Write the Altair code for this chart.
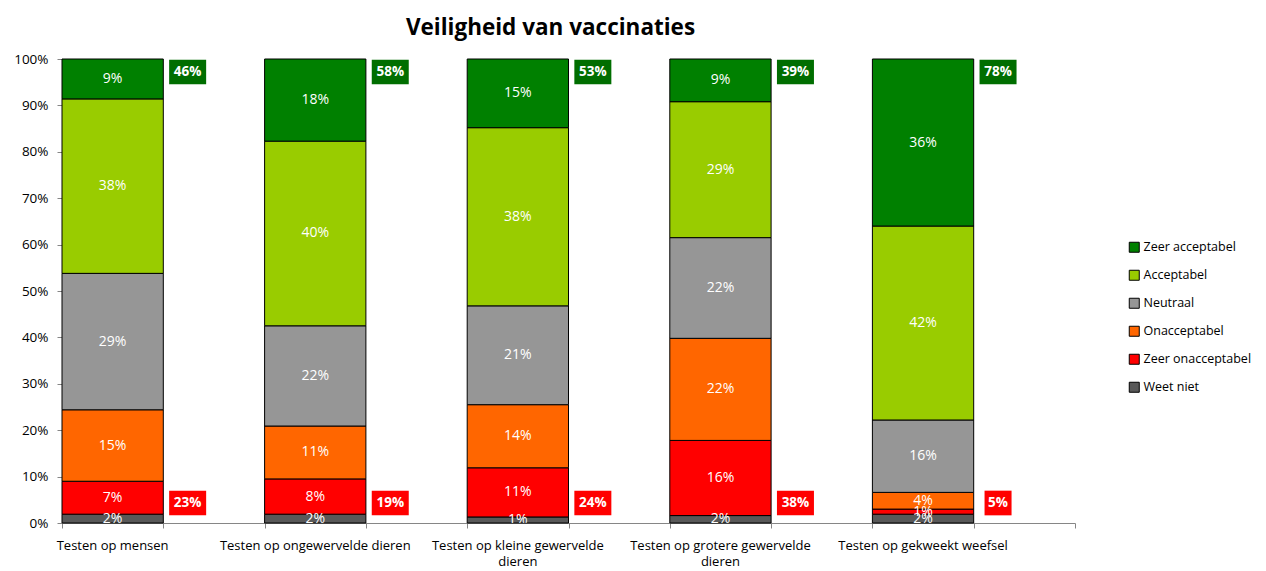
import altair as alt
import pandas as pd

categories = [
    "Testen op mensen",
    "Testen op ongewervelde dieren",
    "Testen op kleine gewervelde|dieren",
    "Testen op grotere gewervelde|dieren",
    "Testen op gekweekt weefsel",
]
responses = ["Zeer acceptabel", "Acceptabel", "Neutraal", "Onacceptabel",
             "Zeer onacceptabel", "Weet niet"]
colors = ["#008000", "#99CC00", "#969696", "#FF6600", "#FF0000", "#595959"]

# values per category (percent), one list per response
weet_niet = [1.9, 1.9, 1.3, 1.6, 1.9]
zeer_onacceptabel = [7.1, 7.6, 10.6, 16.2, 1.1]
onacceptabel = [15.4, 11.4, 13.6, 22.0, 3.6]
neutraal = [29.4, 21.6, 21.3, 21.7, 15.6]
acceptabel = [37.6, 39.8, 38.4, 29.3, 41.8]
zeer_acceptabel = [8.6, 17.7, 14.8, 9.2, 36.0]

totaal_acceptabel = [46, 58, 53, 39, 78]
totaal_onacceptabel = [23, 19, 24, 38, 5]

series = {
    "Weet niet": weet_niet,
    "Zeer onacceptabel": zeer_onacceptabel,
    "Onacceptabel": onacceptabel,
    "Neutraal": neutraal,
    "Acceptabel": acceptabel,
    "Zeer acceptabel": zeer_acceptabel,
}
stack_order = ["Weet niet", "Zeer onacceptabel", "Onacceptabel", "Neutraal",
               "Acceptabel", "Zeer acceptabel"]

rows = []
for r in stack_order:
    for c, v in zip(categories, series[r]):
        rows.append({"cat": c, "resp": r, "value": v, "ord": stack_order.index(r)})
df = pd.DataFrame(rows)

top_df = pd.DataFrame({"cat": categories,
                       "lab": [f"{v}%" for v in totaal_acceptabel],
                       "nd": [len(str(v)) for v in totaal_acceptabel],
                       "ypos": [100] * 5})
bot_df = pd.DataFrame({"cat": categories,
                       "lab": [f"{v}%" for v in totaal_onacceptabel],
                       "nd": [len(str(v)) for v in totaal_onacceptabel],
                       "ypos": [0] * 5})

domain = []
for i, c in enumerate(categories):
    domain += [c, "_" * (i + 1)]

W, H = 1013, 464
FONT = "Open Sans"
xscale = alt.Scale(domain=domain, paddingInner=0, paddingOuter=0)
yscale = alt.Scale(domain=[0, 100], nice=False)

xenc = alt.X("cat:N", scale=xscale,
             axis=alt.Axis(title=None, labels=False, tickBand="extent", tickSize=5,
                           domainColor="#868686", tickColor="#868686"))

bars = alt.Chart(df).mark_bar(stroke="#000000", strokeWidth=1).encode(
    x=xenc,
    y=alt.Y("value:Q", stack="zero", scale=yscale,
            axis=alt.Axis(title=None, values=list(range(0, 101, 10)), grid=False,
                          labelExpr="datum.value + '%'", labelFont=FONT,
                          labelFontSize=13.5, labelColor="#000000", labelPadding=9,
                          tickSize=5, domainColor="#868686", tickColor="#868686")),
    color=alt.Color("resp:N", scale=alt.Scale(domain=responses, range=colors),
                    legend=alt.Legend(title=None, orient="none", legendX=1066, legendY=182,
                                      symbolType="square", symbolSize=100,
                                      symbolStrokeColor="#000000", symbolStrokeWidth=1,
                                      labelFont=FONT, labelFontSize=12.5, labelOffset=3,
                                      labelColor="#000000", rowPadding=13)),
    order=alt.Order("ord:Q"),
)

seg_text = alt.Chart(df).transform_stack(
    stack="value", groupby=["cat"], sort=[alt.SortField("ord")], as_=["y0", "y1"]
).transform_calculate(
    mid="(datum.y0 + datum.y1) / 2",
    lab="format(datum.value, '.0f') + '%'"
).mark_text(color="#FFFFFF", font=FONT, fontSize=14, baseline="middle", clip=True).encode(
    x=alt.X("cat:N", scale=xscale),
    y=alt.Y("mid:Q", scale=yscale),
    text="lab:N",
)

cat_labels = alt.Chart(bot_df).mark_text(font=FONT, fontSize=13, color="#000000",
                                         lineBreak="|", baseline="top", dy=17,
                                         lineHeight=16).encode(
    x=alt.X("cat:N", scale=xscale),
    y=alt.Y("ypos:Q", scale=yscale),
    text="cat:N",
)

wide_box = "M-1,-0.667L1,-0.667L1,0.667L-1,0.667Z"
narrow_box = "M-0.73,-0.667L0.73,-0.667L0.73,0.667L-0.73,0.667Z"
shape_scale = alt.Scale(domain=[2, 1], range=[wide_box, narrow_box])
xoff = 75


def total_layer(data, fill, yoff):
    box = alt.Chart(data).mark_point(size=37 * 37, filled=True, opacity=1, strokeWidth=0,
                                     color=fill, xOffset=xoff, yOffset=yoff).encode(
        x=alt.X("cat:N", scale=xscale),
        y=alt.Y("ypos:Q", scale=yscale),
        shape=alt.Shape("nd:O", scale=shape_scale, legend=None),
    )
    txt = alt.Chart(data).mark_text(color="#FFFFFF", font=FONT, fontSize=13.5,
                                    fontWeight="bold", xOffset=xoff, yOffset=yoff,
                                    baseline="middle").encode(
        x=alt.X("cat:N", scale=xscale),
        y=alt.Y("ypos:Q", scale=yscale),
        text="lab:N",
    )
    return box, txt


top_box, top_txt = total_layer(top_df, "#006E00", 13)
bot_box, bot_txt = total_layer(bot_df, "#FF0000", -20)

chart = alt.layer(bars, seg_text, cat_labels, top_box, top_txt, bot_box, bot_txt).properties(
    width=W, height=H,
    title=alt.TitleParams("Veiligheid van vaccinaties", font=FONT, fontSize=22.5,
                          fontWeight="bold", color="#000000", anchor="middle", dx=-18,
                          offset=13),
    autosize=alt.AutoSizeParams(type="none"),
    padding={"left": 54, "top": 51, "right": 183, "bottom": 48},
).configure_view(stroke=None)

chart.save("out.html", embed_options={"renderer": "svg", "actions": False})
